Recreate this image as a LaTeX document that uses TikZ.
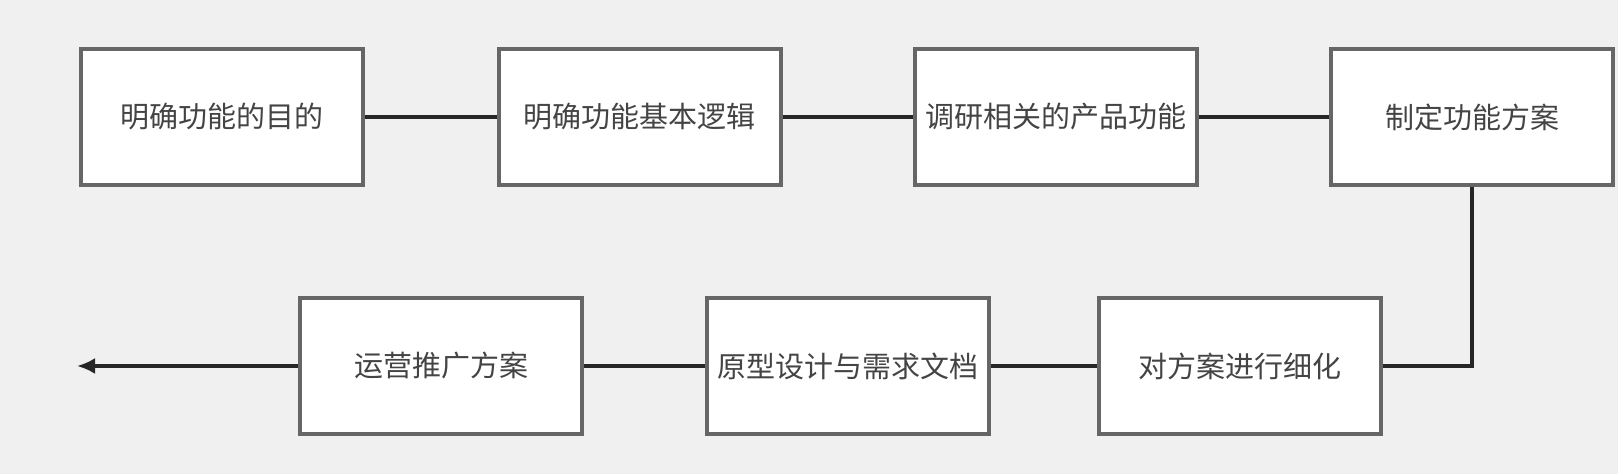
\documentclass[tikz,border=0pt]{standalone}
\usepackage{fontspec}
\newfontfamily\cjk{Noto Sans CJK SC}
\usetikzlibrary{arrows.meta}
\definecolor{bgcol}{HTML}{F0F0F0}
\definecolor{boxline}{HTML}{666666}
\definecolor{txtcol}{HTML}{444444}
\tikzset{
  stepbox/.style={draw=boxline,line width=2pt,fill=white,minimum width=141pt,minimum height=68pt,
    inner sep=0pt,font=\cjk\fontsize{14.5}{16}\selectfont,text=txtcol},
  link/.style={draw=black!85,line width=1.7pt}
}
\begin{document}
\begin{tikzpicture}[x=0.5pt,y=-0.5pt]
\fill[bgcol] (0,0) rectangle (1618,474);
\useasboundingbox (0,0) rectangle (1618,474);
% first row
\node[stepbox] (goal)   at (222,117)    {明确功能的目的};
\node[stepbox] (logic)  at (639.5,117)  {明确功能基本逻辑};
\node[stepbox] (survey) at (1055.5,117) {调研相关的产品功能};
\node[stepbox] (plan)   at (1472,117)   {制定功能方案};
% second row
\node[stepbox] (refine) at (1240,366) {对方案进行细化};
\node[stepbox] (proto)  at (848,366)  {原型设计与需求文档};
\node[stepbox] (promo)  at (441,366)  {运营推广方案};
\coordinate (out) at (77,366);
\draw[link] (goal) -- (logic);
\draw[link] (logic) -- (survey);
\draw[link] (survey) -- (plan);
\draw[link] (plan.south) |- (refine.east);
\draw[link] (refine) -- (proto);
\draw[link] (proto) -- (promo);
\draw[link,-{Latex[length=9pt,width=8pt]}] (promo.west) -- (out);
\end{tikzpicture}
\end{document}
